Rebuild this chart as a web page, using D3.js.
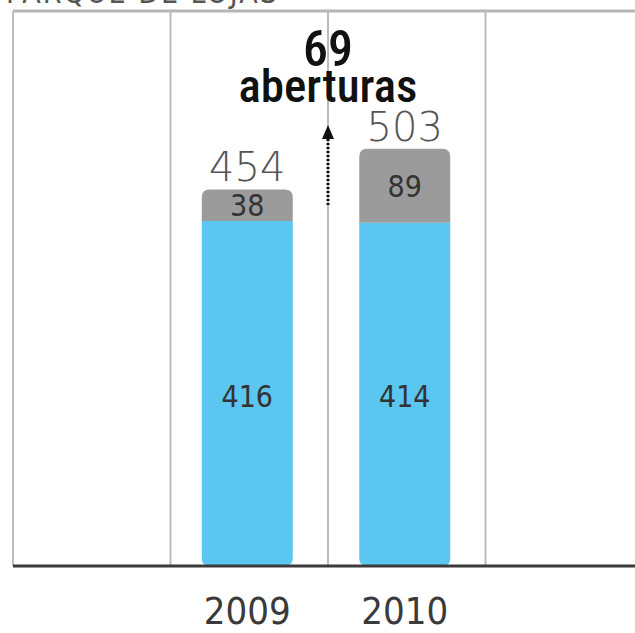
<!DOCTYPE html>
<html>
<head>
<meta charset="utf-8">
<script src="https://cdn.jsdelivr.net/npm/d3@7"></script>
<style>
  body { margin: 0; background: #fff; }
  svg { display: block; font-family: "DejaVu Sans", sans-serif; font-stretch: condensed; }
</style>
</head>
<body>
<svg id="chart" width="635" height="633"></svg>
<script>
// data
const years = ['2009', '2010'];
const existing = [416, 414];
const openings = [38, 89];
const totals = [454, 503];
const columns = ['', '2009', '2010', ' '];
const title = 'PARQUE DE LOJAS';
const noteValue = '69';
const noteText = 'aberturas';

const svg = d3.select('#chart');
const width = 635, height = 633;
const baseY = 566, topY = 11;

const x = d3.scaleBand().domain(columns).range([13, 643]).paddingInner(0).paddingOuter(0);
const y = d3.scaleLinear().domain([0, 416]).range([baseY, 221]);

// title (cut off at the top, as in the source)
svg.append('text')
    .attr('x', 6).attr('y', 3)
    .attr('font-size', 30).attr('fill', '#555')
    .attr('letter-spacing', 2)
    .text(title);

// frame: top line + column dividers
svg.append('line')
    .attr('x1', 13).attr('x2', width).attr('y1', topY).attr('y2', topY)
    .attr('stroke', '#b5b5b5').attr('stroke-width', 3);

svg.selectAll('.divider')
    .data(columns)
    .join('line')
    .attr('class', 'divider')
    .attr('x1', d => x(d)).attr('x2', d => x(d))
    .attr('y1', topY).attr('y2', baseY)
    .attr('stroke', '#bcbcbc').attr('stroke-width', 2);

const barW = 91, r = 8;

// rounded-top rect / rounded-bottom rect path helpers
function roundTop(x0, y0, w, h) {
    return `M${x0},${y0 + h}V${y0 + r}Q${x0},${y0} ${x0 + r},${y0}H${x0 + w - r}Q${x0 + w},${y0} ${x0 + w},${y0 + r}V${y0 + h}Z`;
}
function roundBottom(x0, y0, w, h) {
    return `M${x0},${y0}H${x0 + w}V${y0 + h - r}Q${x0 + w},${y0 + h} ${x0 + w - r},${y0 + h}H${x0 + r}Q${x0},${y0 + h} ${x0},${y0 + h - r}Z`;
}

const bars = years.map((yr, i) => ({
    year: yr,
    base: existing[i],
    extra: openings[i],
    total: totals[i],
    cx: x(yr) + x.bandwidth() / 2 - 2
}));

// blue part
svg.selectAll('.base')
    .data(bars)
    .join('path')
    .attr('class', 'base')
    .attr('fill', '#5bc6f0')
    .attr('d', d => roundBottom(d.cx - barW / 2, y(d.base), barW, baseY - y(d.base)));

// gray part
svg.selectAll('.extra')
    .data(bars)
    .join('path')
    .attr('class', 'extra')
    .attr('fill', '#9c9b9c')
    .attr('d', d => roundTop(d.cx - barW / 2, y(d.total), barW, y(d.base) - y(d.total)));

// baseline
svg.append('line')
    .attr('x1', 13).attr('x2', width).attr('y1', baseY).attr('y2', baseY)
    .attr('stroke', '#3a3a3a').attr('stroke-width', 3);

// labels
svg.selectAll('.baseLabel')
    .data(bars)
    .join('text')
    .attr('x', d => d.cx).attr('y', d => (y(d.base) + baseY) / 2 + 13)
    .attr('text-anchor', 'middle').attr('font-size', 30).attr('fill', '#333')
    .text(d => d.base);

svg.selectAll('.extraLabel')
    .data(bars)
    .join('text')
    .attr('x', d => d.cx).attr('y', d => (y(d.base) + y(d.total)) / 2 + 11)
    .attr('text-anchor', 'middle').attr('font-size', 30).attr('fill', '#333')
    .text(d => d.extra);

svg.selectAll('.totalLabel')
    .data(bars)
    .join('text')
    .attr('x', d => d.cx).attr('y', d => y(d.total) - 8)
    .attr('text-anchor', 'middle').attr('font-size', 40).attr('font-weight', 300).attr('fill', '#555')
    .text(d => d.total);

svg.selectAll('.yearLabel')
    .data(bars)
    .join('text')
    .attr('x', d => d.cx).attr('y', 624)
    .attr('text-anchor', 'middle').attr('font-size', 38).attr('fill', '#3a3a3a')
    .text(d => d.year);

// arrow + note
const ax = x('2010');
svg.append('line')
    .attr('x1', ax).attr('x2', ax).attr('y1', 205).attr('y2', 138)
    .attr('stroke', '#111').attr('stroke-width', 3).attr('stroke-dasharray', '2,2');
svg.append('path')
    .attr('d', `M${ax - 6},${139}L${ax},${125}L${ax + 6},${139}Z`)
    .attr('fill', '#111');

svg.append('text')
    .attr('x', ax).attr('y', 66)
    .attr('text-anchor', 'middle').attr('font-family', 'Roboto, sans-serif').attr('font-size', 50)
    .attr('font-weight', 500).attr('fill', '#111')
    .text(noteValue);
svg.append('text')
    .attr('x', ax).attr('y', 102)
    .attr('text-anchor', 'middle').attr('font-family', 'Roboto, sans-serif').attr('font-size', 47)
    .attr('font-weight', 500).attr('fill', '#111')
    .text(noteText);
</script>
</body>
</html>
